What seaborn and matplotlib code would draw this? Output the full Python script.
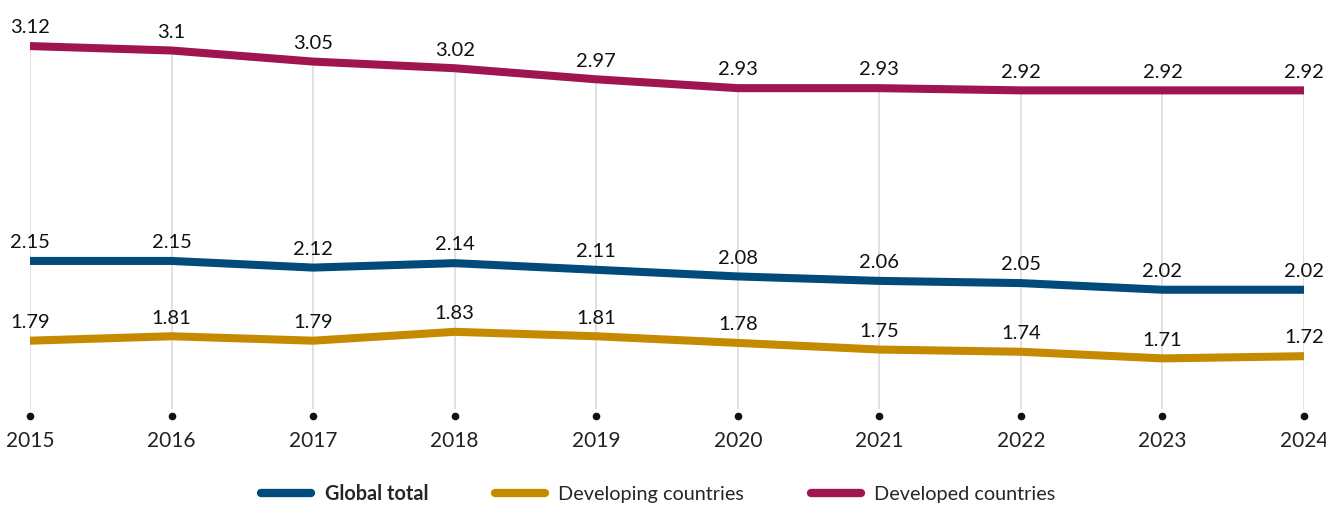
import matplotlib
matplotlib.use("Agg")
import matplotlib.pyplot as plt
import seaborn as sns
import pandas as pd

years = [2015, 2016, 2017, 2018, 2019, 2020, 2021, 2022, 2023, 2024]
global_total = [2.15, 2.15, 2.12, 2.14, 2.11, 2.08, 2.06, 2.05, 2.02, 2.02]
developing = [1.79, 1.81, 1.79, 1.83, 1.81, 1.78, 1.75, 1.74, 1.71, 1.72]
developed = [3.12, 3.10, 3.05, 3.02, 2.97, 2.93, 2.93, 2.92, 2.92, 2.92]

series_names = ["Global total", "Developing countries", "Developed countries"]
series_values = [global_total, developing, developed]
colors = ["#004B7C", "#C68A00", "#A0144F"]

sns.set_theme(style="white")
plt.rcParams["font.family"] = ["Lato", "DejaVu Sans"]

df = pd.concat(
    [pd.DataFrame({"year": years, "value": v, "series": n})
     for n, v in zip(series_names, series_values)],
    ignore_index=True,
)

fig = plt.figure(figsize=(13.26, 5.08), dpi=100)
ax = fig.add_axes([30 / 1326, 92 / 508, 1274 / 1326, 416 / 508])

ymin, ymax = 1.45, 3.328
ax.set_xlim(years[0], years[-1])
ax.set_ylim(ymin, ymax)

# vertical guides from the baseline up to the highest series
ax.vlines(years, ymin + 0.03, developed, color="#DCDCDC", lw=1.2, zorder=0)

sns.lineplot(data=df, x="year", y="value", hue="series", hue_order=series_names,
             palette=colors, lw=5.8, ax=ax, legend=False, sort=False,
             solid_capstyle="round", solid_joinstyle="round")

for vals in series_values:
    for x, y in zip(years, vals):
        ax.annotate(f"{y:g}", (x, y), xytext=(0, 7), textcoords="offset points",
                    ha="center", va="bottom", fontsize=14.5, color="#111111")

# baseline dots under each year
ax.plot(years, [ymin] * len(years), "o", color="#111111", ms=4.5, clip_on=False,
        zorder=5)

for s in ax.spines.values():
    s.set_visible(False)
ax.set_yticks([])
ax.set_xticks(years)
ax.set_xticklabels([str(y) for y in years], fontsize=15, color="#222222")
ax.tick_params(axis="x", length=0, pad=11)
ax.set_xlabel("")
ax.set_ylabel("")

handles = [plt.Line2D([], [], color=c, lw=6.0, solid_capstyle="round") for c in colors]
leg = fig.legend(handles, series_names, loc="center", bbox_to_anchor=(0.4966, 0.028),
                 ncol=3, frameon=False, fontsize=14.3, handlelength=2.5,
                 handletextpad=0.7, columnspacing=3.35)
leg.get_texts()[0].set_fontweight("bold")

fig.savefig("out.png", dpi=100)
